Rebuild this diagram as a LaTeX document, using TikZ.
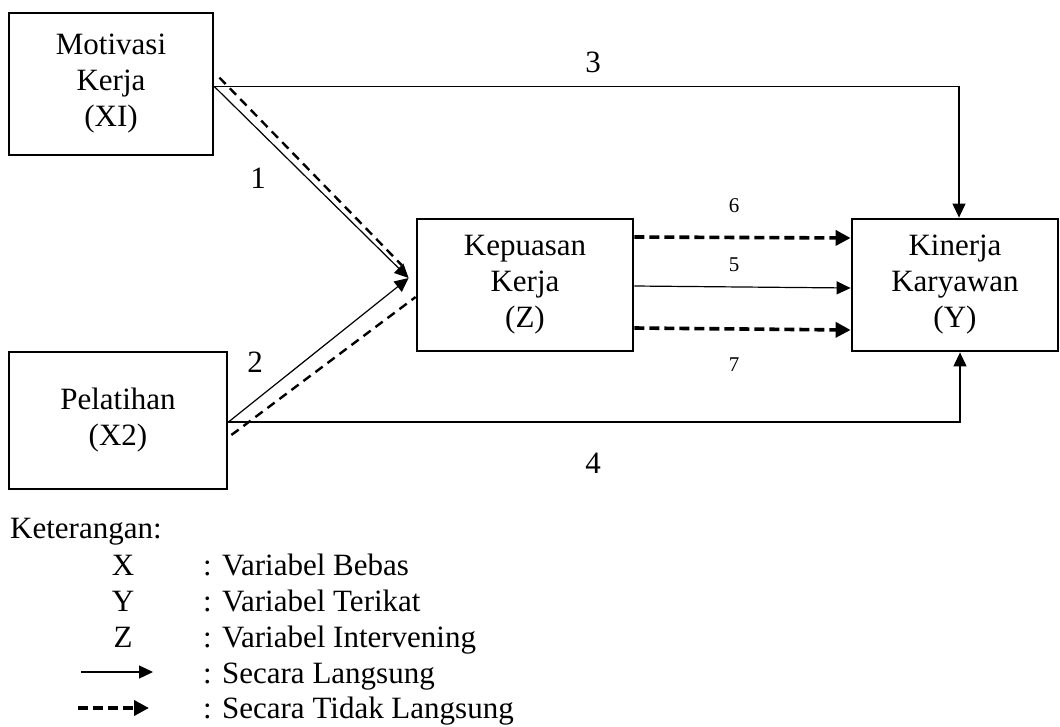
\documentclass[tikz,border=0pt]{standalone}
\usepackage{fontspec}
\setmainfont{Liberation Serif}
\usetikzlibrary{arrows.meta,calc}
\newcommand\mainfs{\fontsize{31pt}{36pt}\selectfont}
\newcommand\smallfs{\fontsize{21pt}{24pt}\selectfont}
\begin{document}
\begin{tikzpicture}[x=1pt,y=-1pt,
  box/.style={draw,line width=2.8pt,inner sep=0pt,align=center,font=\mainfs},
  conn/.style={line width=1.2pt,-{Triangle[length=14pt,width=13pt]}},
  dline/.style={line width=2.4pt,dash pattern=on 9pt off 6pt},
  thickdash/.style={line width=3.6pt,dash pattern=on 10pt off 5pt,-{Triangle[length=15pt,width=15pt]}},
  legdash/.style={line width=4pt,dash pattern=on 10pt off 5pt,-{Triangle[length=15pt,width=15pt]}},
  lbl/.style={inner sep=0pt,font=\mainfs},
  slbl/.style={inner sep=0pt,font=\smallfs},
  legtxt/.style={inner sep=0pt,anchor=base west,font=\mainfs},
  legsym/.style={inner sep=0pt,anchor=base,font=\mainfs}
]
\useasboundingbox (0,0) rectangle (1060,726);

% boxes
\node[box,minimum width=204pt,minimum height=142pt] (mk) at (111,84) {Motivasi\\Kerja\\(XI)};
\node[box,minimum width=218pt,minimum height=137pt] (pl) at (118,420.5) {Pelatihan\\(X2)};
\node[box,minimum width=216pt,minimum height=132pt] (kz) at (525,285) {Kepuasan\\Kerja\\(Z)};
\node[box,minimum width=206pt,minimum height=132pt] (ky) at (955,285) {Kinerja\\Karyawan\\(Y)};

% direct connectors
\draw[conn] ([yshift=-75pt]mk.north east) -| ([xshift=4pt]ky.north);
\draw[conn] ([yshift=-1.5pt]pl.east) -| ([xshift=5pt]ky.south);
\draw[conn] ([yshift=-75pt]mk.north east) -- ([xshift=-7pt,yshift=7pt]kz.west);
\draw[conn] ([yshift=-1.5pt]pl.east) -- ([xshift=-7pt,yshift=7pt]kz.west);

% indirect (dashed) lines
\draw[dline] ([xshift=5pt,yshift=-66pt]mk.north east) -- ([xshift=-14pt,yshift=20pt]kz.west);
\draw[dline] ([xshift=3pt,yshift=-14.5pt]pl.east) -- ([yshift=-12pt]kz.west);

% middle connectors
\draw[thickdash] ([yshift=48pt]kz.east) -- ([yshift=47pt]ky.west);
\draw[conn] ([yshift=-1pt]kz.east) -- ([yshift=-3pt]ky.west);
\draw[thickdash] ([yshift=-43pt]kz.east) -- ([yshift=-45pt]ky.west);

% labels
\node[lbl] (n1) at (258,178) {1};
\node[lbl] (n2) at (255,362) {2};
\node[lbl] (n3) at (593,62) {3};
\node[lbl] (n4) at (593,463) {4};
\node[slbl] (n6) at (734,206) {6};
\node[slbl] (n5) at (734,265) {5};
\node[slbl] (n7) at (734,365) {7};

% legend
\node[legtxt] (ket) at (10,538) {Keterangan:};
\node[legsym] (lx) at (123,575) {X};
\node[legsym] (ly) at (123,611) {Y};
\node[legsym] (lz) at (123,647) {Z};
\node[legtxt] (tx) at (203,575) {: Variabel Bebas};
\node[legtxt] (ty) at (203,611) {: Variabel Terikat};
\node[legtxt] (tz) at (203,647) {: Variabel Intervening};
\node[legtxt] (tl) at (203,683) {: Secara Langsung};
\node[legtxt] (tt) at (203,718) {: Secara Tidak Langsung};
\coordinate (la1) at (81,672);
\coordinate (lb1) at (153,672);
\draw[conn] (la1) -- (lb1);
\coordinate (la2) at (78,708);
\coordinate (lb2) at (149,708);
\draw[legdash] (la2) -- (lb2);
\end{tikzpicture}
\end{document}
